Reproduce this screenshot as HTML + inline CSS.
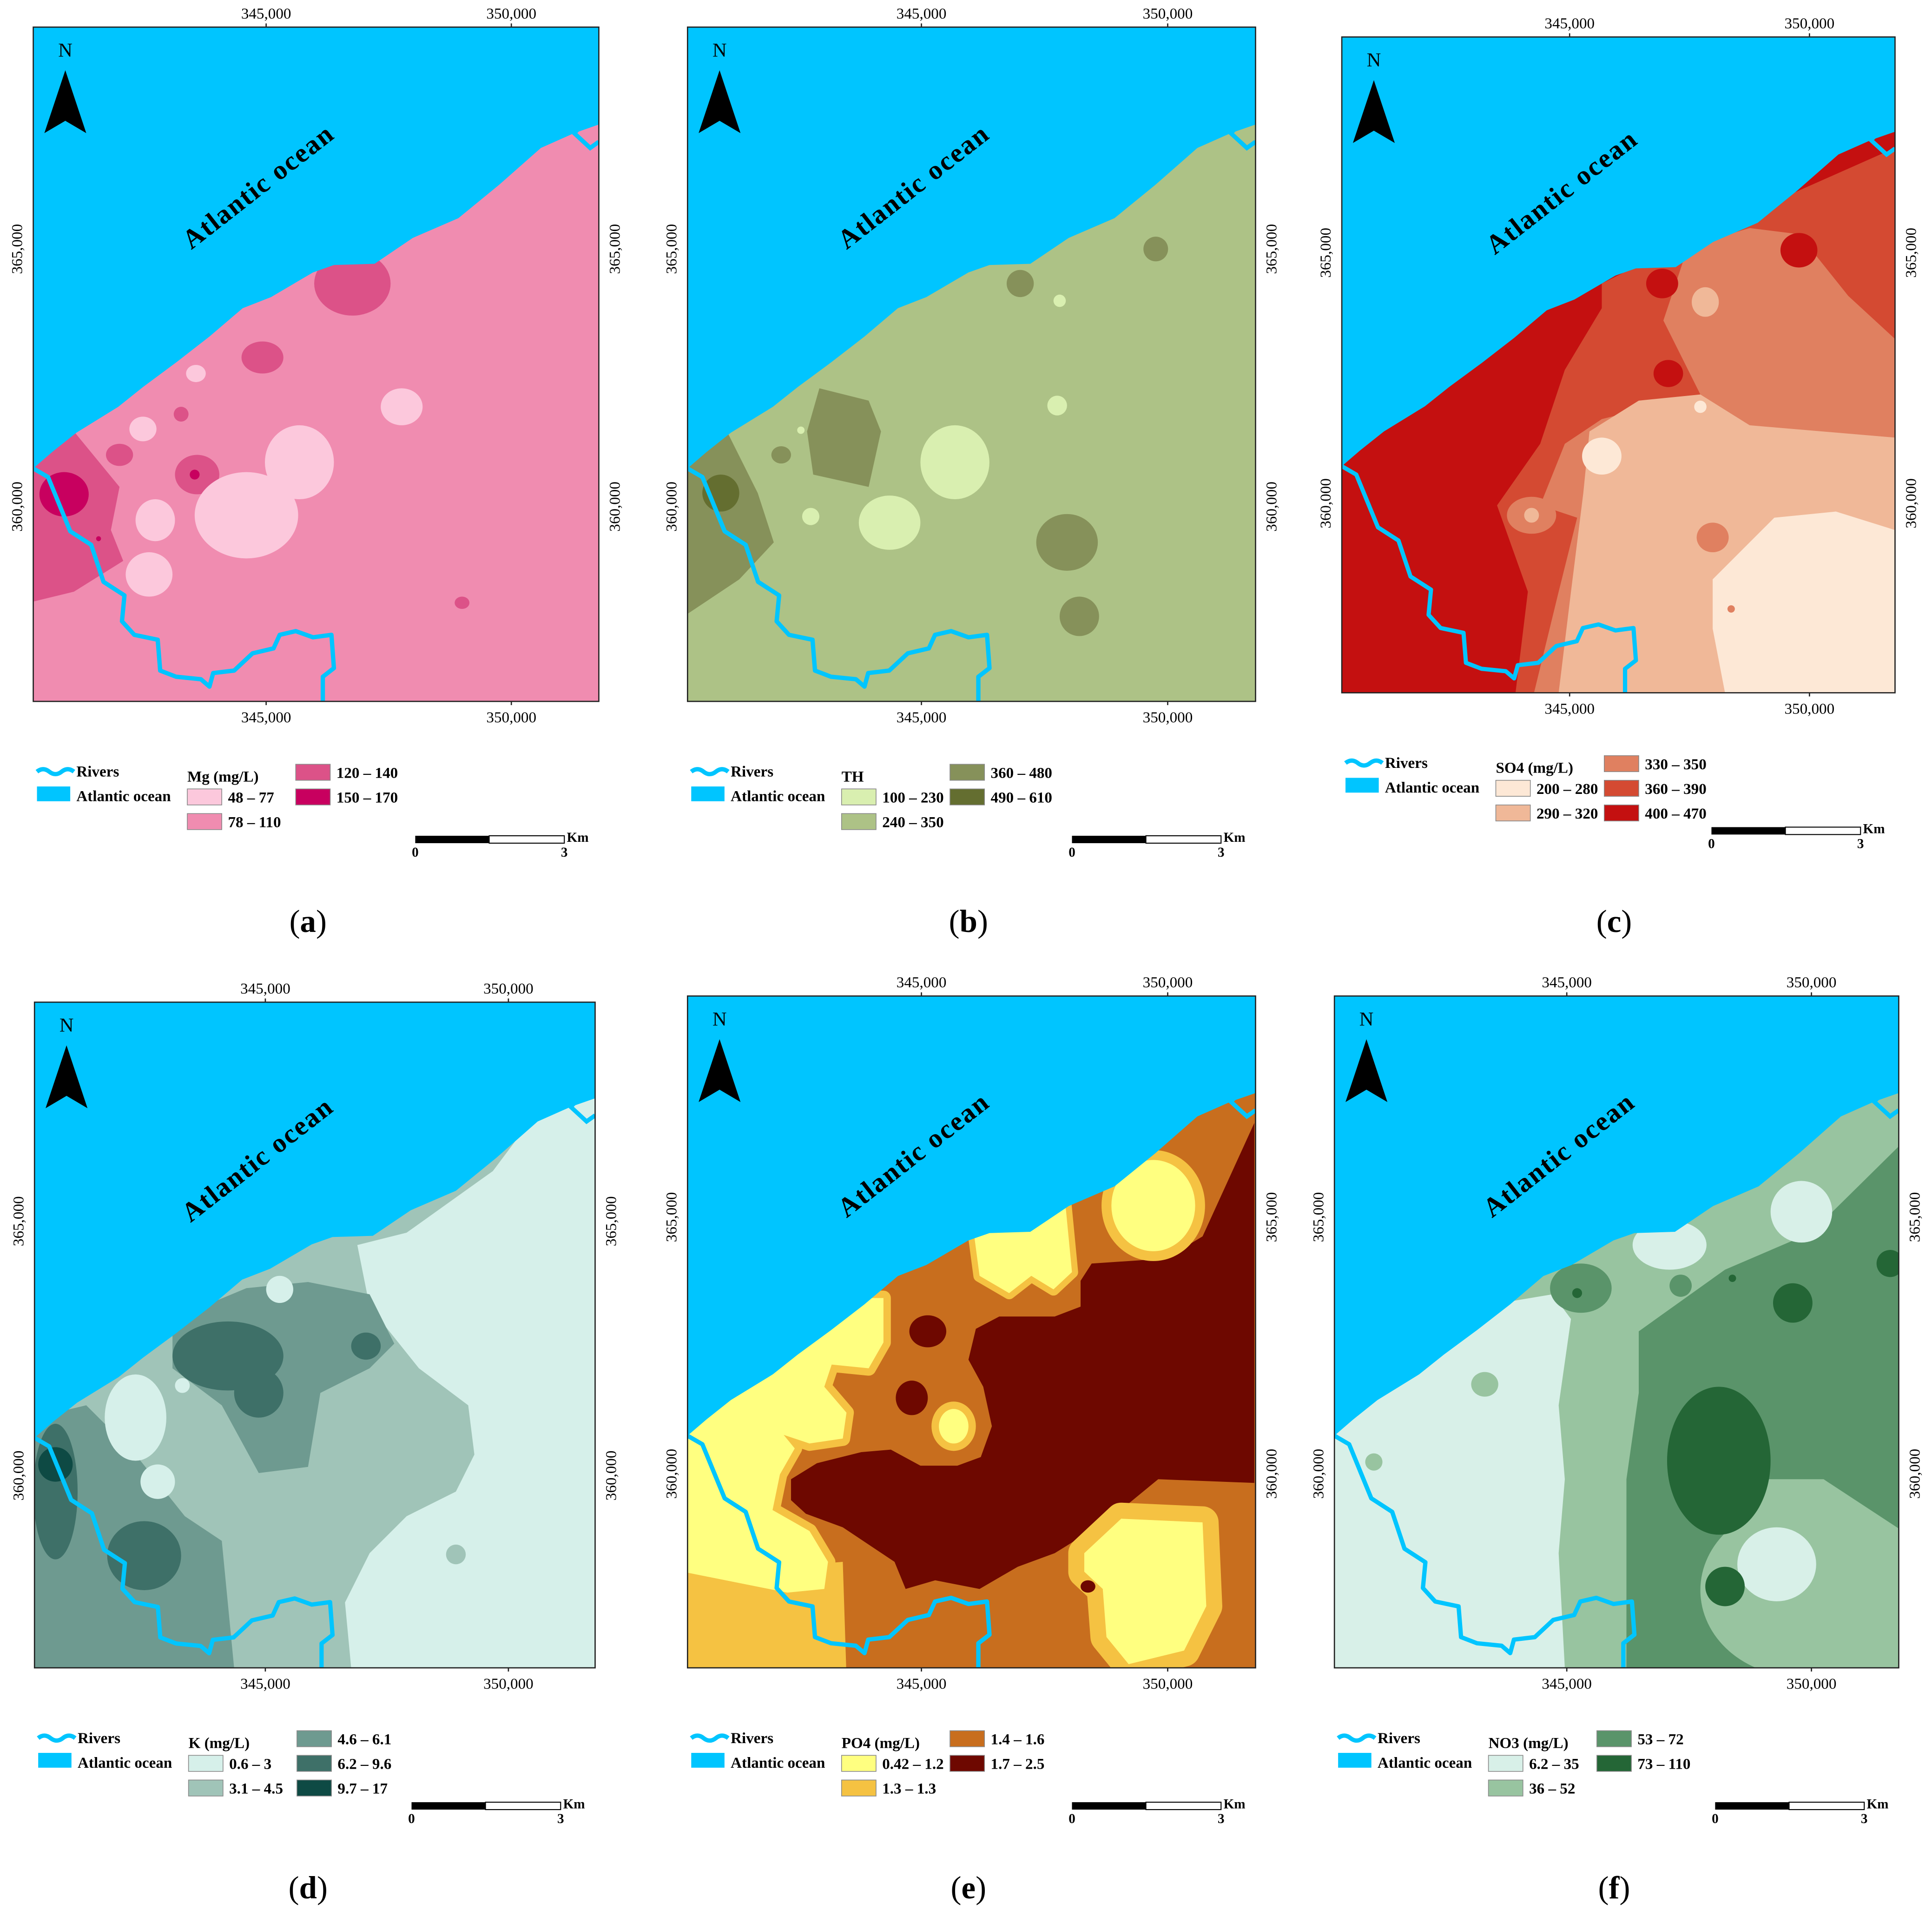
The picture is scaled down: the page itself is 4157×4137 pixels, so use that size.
<!DOCTYPE html>
<html><head><meta charset="utf-8"><style>
html,body{margin:0;padding:0;background:#fff;}
svg{display:block;}
text{font-family:"Liberation Serif",serif;}
</style></head><body>
<svg id="fig" width="4157" height="4137" viewBox="0 0 1568 1560" preserveAspectRatio="none" xmlns="http://www.w3.org/2000/svg">
<rect width="1568" height="1560" fill="#fff"/>
</svg>
<script>
const NS="http://www.w3.org/2000/svg";
const svg=document.getElementById('fig');
function el(tag,attrs,parent,txt){const e=document.createElementNS(NS,tag);for(const k in attrs)e.setAttribute(k,attrs[k]);if(txt!==undefined)e.textContent=txt;(parent||svg).appendChild(e);return e;}
const coast=[[0,358],[15,345],[35,329],[69,308],[89,292],[116,272],[143,251],[170,228],[193,219],[227,199],[244,193],[277,192],[308,171],[345,155],[378,128],[412,98],[439,86],[459,79]];
const river=[[0,358],[12,365],[30,409],[47,420],[57,450],[74,461],[72,482],[82,493],[101,497],[103,522],[116,527],[136,529],[143,535],[146,524],[163,522],[178,508],[195,504],[200,493],[213,490],[227,495],[242,493],[244,520],[235,527],[235,547]];
const river2=[[459,54],[455,70],[439,86],[452,98],[459,93]];
const panels=[
 {id:'a',x:27,y:22,w:459,h:547,base:'#f08cb0',title:'Mg (mg/L)',cls:[['48 – 77','#fcc8dc'],['78 – 110','#f08cb0'],['120 – 140','#dc5288'],['150 – 170','#c8005f']],
  shapes:[['p','#dc5288','27,350 60,350 97,395 90,430 100,455 60,480 27,488'],['e','#dc5288',286,230,31,26],['e','#dc5288',213,290,17,13],['e','#dc5288',147,336,6,6],['e','#dc5288',97,369,11,9],['e','#dc5288',160,385,18,16],['e','#dc5288',375,489,6,5],
  ['e','#c8005f',52,401,20,18],['e','#c8005f',158,385,4,4],['e','#c8005f',80,437,2,2],
  ['e','#fcc8dc',159,303,8,7],['e','#fcc8dc',116,348,11,10],['e','#fcc8dc',126,422,16,17],['e','#fcc8dc',121,466,19,18],['e','#fcc8dc',326,330,17,15],['e','#fcc8dc',200,418,42,35],['e','#fcc8dc',243,375,28,30]]},
 {id:'b',x:558,y:22,w:461,h:547,base:'#adc286',title:'TH',cls:[['100 – 230','#d9efb0'],['240 – 350','#adc286'],['360 – 480','#86915a'],['490 – 610','#646e30']],
  shapes:[['p','#86915a','558,350 590,350 615,400 628,440 600,470 558,498'],['p','#86915a','665,315 705,325 715,350 705,395 660,385 655,350'],['e','#86915a',828,230,11,11],['e','#86915a',938,202,10,10],['e','#86915a',866,440,25,23],['e','#86915a',876,500,16,16],['e','#86915a',634,369,8,7],
  ['e','#646e30',585,400,15,15],
  ['e','#d9efb0',775,375,28,30],['e','#d9efb0',722,424,25,22],['e','#d9efb0',658,419,7,7],['e','#d9efb0',858,329,8,8],['e','#d9efb0',860,244,5,5],['e','#d9efb0',650,349,3,3]]},
 {id:'c',x:1089,y:30,w:449,h:532,base:'#c41010',title:'SO4 (mg/L)',cls:[['200 – 280','#fde8d6'],['290 – 320','#f0b898'],['330 – 350','#e08060'],['360 – 390','#d44a32'],['400 – 470','#c41010']],
  shapes:[['p','#d44a32','1300,230 1380,190 1538,120 1538,562 1230,562 1240,480 1215,410 1250,360 1270,300 1300,250'],
  ['p','#e08060','1370,200 1420,185 1460,190 1500,240 1538,275 1538,562 1245,562 1265,480 1280,420 1250,410 1270,360 1300,340 1380,320 1350,260'],
  ['p','#f0b898','1290,350 1330,325 1380,320 1420,345 1538,355 1538,562 1265,562 1275,480 1285,400'],
  ['p','#fde8d6','1390,470 1440,420 1490,415 1538,430 1538,562 1400,562 1390,510'],
  ['e','#c41010',1460,203,15,14],['e','#c41010',1349,230,13,12],['e','#c41010',1354,303,12,11],['e','#e08060',1390,436,13,12],['e','#e08060',1405,494,3,3],['e','#e08060',1243,418,20,15],
  ['e','#fde8d6',1300,370,16,15],['e','#f0b898',1384,245,11,12],['e','#fde8d6',1380,330,5,5],['e','#f0b898',1243,418,6,6]]},
 {id:'d',x:28,y:813,w:455,h:540,base:'#a0c4b8',title:'K (mg/L)',cls:[['0.6 – 3','#d6f0ea'],['3.1 – 4.5','#a0c4b8'],['4.6 – 6.1','#6e9a90'],['6.2 – 9.6','#3e7068'],['9.7 – 17','#0e4a44']],
  shapes:[['p','#d6f0ea','290,1010 330,1000 400,950 430,910 483,870 483,1353 285,1353 280,1300 300,1260 330,1230 370,1210 385,1180 380,1140 340,1110 300,1060'],
  ['p','#6e9a90','140,1070 200,1045 250,1040 300,1050 320,1090 300,1110 260,1130 250,1190 210,1195 180,1140 140,1110'],
  ['p','#6e9a90','28,1150 70,1140 110,1180 150,1230 180,1250 190,1353 28,1353'],
  ['e','#3e7068',185,1100,45,28],['e','#3e7068',210,1130,20,20],['e','#3e7068',297,1092,12,11],['e','#3e7068',117,1262,30,28],['e','#3e7068',45,1210,18,55],
  ['e','#0e4a44',45,1188,14,14],
  ['e','#d6f0ea',227,1046,11,11],['e','#d6f0ea',110,1150,25,35],['e','#d6f0ea',128,1202,14,14],['e','#d6f0ea',148,1124,6,6],['e','#a0c4b8',370,1261,8,8]]},
 {id:'e',x:558,y:808,w:461,h:545,base:'#c86e1e',title:'PO4 (mg/L)',cls:[['0.42 – 1.2','#ffff80'],['1.3 – 1.3','#f5c242'],['1.4 – 1.6','#c86e1e'],['1.7 – 2.5','#6e0800']],
  shapes:[
  ['p','#f5c242','554,1278 684,1267 687,1360 554,1360'],
  ['p','#6e0800','1018,911 976,1003 946,1021 886,1025 877,1039 877,1060 856,1068 811,1068 792,1078 786,1103 798,1125 805,1157 796,1182 777,1189 747,1189 723,1176 699,1178 663,1187 642,1200 642,1217 654,1228 684,1239 711,1257 726,1267 735,1289 759,1282 795,1289 826,1271 856,1260 901,1232 940,1200 1018,1203'],
  ['s','#ffff80','554,1160 585,1139 615,1118 645,1096 699,1053 717,1053 717,1089 705,1110 675,1107 669,1125 687,1146 684,1167 657,1171 636,1164 627,1153 645,1175 633,1196 627,1225 657,1242 672,1267 669,1289 639,1292 554,1275',12],
  ['s','#ffff80','789,990 864,970 870,1032 855,1046 837,1035 819,1049 795,1035',10],
  ['e','#f5c242',936,978,42,45],['e','#ffff80',936,978,34,37],
  ['e','#f5c242',774,1157,18,20],['e','#ffff80',774,1157,12,14],
  ['e','#6e0800',753,1080,15,13],['e','#6e0800',740,1134,13,14],
  ['s','#ffff80','880,1260 910,1232 976,1235 979,1303 961,1339 916,1350 898,1328 895,1289 880,1275',26],
  ['e','#6e0800',883,1287,6,5]]},
 {id:'f',x:1083,y:808,w:458,h:545,base:'#98c4a0',title:'NO3 (mg/L)',cls:[['6.2 – 35','#d8f0e8'],['36 – 52','#98c4a0'],['53 – 72','#5a946a'],['73 – 110','#246636']],
  shapes:[['p','#d8f0e8','1083,1100 1200,1060 1260,1050 1275,1070 1265,1140 1270,1200 1265,1260 1270,1353 1083,1353'],
  ['p','#5a946a','1330,1080 1400,1030 1470,1000 1541,930 1541,1240 1480,1200 1420,1200 1400,1250 1420,1300 1430,1353 1320,1353 1320,1200 1330,1130'],
  ['e','#98c4a0',1460,1290,80,70],['e','#d8f0e8',1442,1269,32,30],
  ['e','#246636',1395,1185,42,60],['e','#246636',1400,1287,16,16],['e','#246636',1455,1057,16,16],['e','#246636',1534,1025,11,11],['e','#5a946a',1283,1045,25,20],['e','#5a946a',1364,1043,9,9],['e','#246636',1280,1049,4,4],['e','#246636',1406,1037,3,3],
  ['e','#d8f0e8',1462,983,25,25],['e','#d8f0e8',1355,1010,30,20],['e','#98c4a0',1205,1123,11,10],['e','#98c4a0',1115,1186,7,7]]}
];
const titlePos=[[250,756],[786,756],[1310,756],[250,1540],[786,1540],[1310,1540]];
const oceanCol='#00c5ff';
panels.forEach((P,i)=>{
  const g=el('g',{});
  
  
  const cp=el('clipPath',{id:'clip'+P.id},g);
  el('rect',{x:P.x,y:P.y,width:P.w,height:P.h},cp);
  const m=el('g',{'clip-path':'url(#clip'+P.id+')'},g);
  el('rect',{x:P.x,y:P.y,width:P.w,height:P.h,fill:P.base},m);
  P.shapes.forEach(s=>{
    if(s[0]==='p')el('polygon',{points:s[2],fill:s[1]},m);
    else if(s[0]==='s'){el('polygon',{points:s[2],fill:'#f5c242',stroke:'#f5c242','stroke-width':s[3],'stroke-linejoin':'round'},m);el('polygon',{points:s[2],fill:s[1]},m);}
    else el('ellipse',{cx:s[2],cy:s[3],rx:s[4],ry:s[5],fill:s[1]},m);
  });
  const sx=P.w/459,sy=P.h/547;
  const tg=el('g',{transform:`translate(${P.x},${P.y}) scale(${sx},${sy})`},m);
  const oc=[[0,0],[459,0]].concat(coast.slice().reverse());
  const ocean=el('polygon',{points:oc.map(p=>p.join(',')).join(' '),fill:oceanCol},tg);
  
  
  const rv=el('polyline',{points:river.map(p=>p.join(',')).join(' '),fill:'none',stroke:oceanCol,'stroke-width':3.5,'stroke-linejoin':'round'},tg);
  
  
  el('polyline',{points:river2.map(p=>p.join(',')).join(' '),fill:'none',stroke:oceanCol,'stroke-width':3.5},tg);
  el('rect',{x:P.x,y:P.y,width:P.w,height:P.h,fill:'none',stroke:'#222','stroke-width':1},g);
  const lx=P.x+187*sx,ly=P.y+135*sy;
  const ol=el('text',{x:lx,y:ly,'font-size':22,'font-weight':'bold','letter-spacing':1,'text-anchor':'middle',transform:`rotate(-38 ${lx} ${ly})`},g,'Atlantic ocean');
  
  
  const ax=P.x+26,ay=P.y;
  el('text',{x:ax,y:ay+24,'font-size':16,'text-anchor':'middle'},g,'N');
  const na=el('polygon',{points:`${ax},${ay+35} ${ax+17},${ay+86} ${ax},${ay+76} ${ax-17},${ay+86}`,fill:'#000'},g);
  
  
  [[189*sx,'345,000'],[388*sx,'350,000']].forEach(t=>{
    const tx=P.x+t[0];
    el('text',{x:tx,y:P.y-7,'font-size':12.5,'text-anchor':'middle'},g,t[1]);
    el('text',{x:tx,y:P.y+P.h+17,'font-size':12.5,'text-anchor':'middle'},g,t[1]);
    el('line',{x1:tx,y1:P.y-3,x2:tx,y2:P.y,stroke:'#222'},g);
    el('line',{x1:tx,y1:P.y+P.h,x2:tx,y2:P.y+P.h+3,stroke:'#222'},g);
  });
  [[180*sy,'365,000'],[389*sy,'360,000']].forEach(t=>{
    const ty=P.y+t[0];
    const l1x=P.x-9,r1x=P.x+P.w+17;
    el('text',{x:l1x,y:ty,'font-size':12.5,'text-anchor':'middle',transform:`rotate(-90 ${l1x} ${ty})`},g,t[1]);
    el('text',{x:r1x,y:ty,'font-size':12.5,'text-anchor':'middle',transform:`rotate(-90 ${r1x} ${ty})`},g,t[1]);
  });
  const Lx=P.x+3,Ly=P.y+P.h+61;
  const lg=el('g',{'font-weight':'bold'},g);
  
  
  el('path',{d:`M${Lx},${Ly-4} q5,-4 10,0 t10,0 t10,0`,fill:'none',stroke:oceanCol,'stroke-width':3.5},lg);
  el('text',{x:Lx+32,y:Ly,'font-size':12.5},lg,'Rivers');
  el('rect',{x:Lx,y:Ly+8,width:27,height:12,fill:oceanCol},lg);
  el('text',{x:Lx+32,y:Ly+20,'font-size':12.5},lg,'Atlantic ocean');
  const Tx=Lx+122;
  el('text',{x:Tx,y:Ly+4,'font-size':12.5},lg,P.title);
  const slots=P.cls.length===5?[[Tx,Ly+10],[Tx,Ly+30],[Tx+88,Ly-10],[Tx+88,Ly+10],[Tx+88,Ly+30]]:[[Tx,Ly+10],[Tx,Ly+30],[Tx+88,Ly-10],[Tx+88,Ly+10]];
  P.cls.forEach((c,k)=>{
    const s=slots[k];
    const sw=el('rect',{x:s[0],y:s[1],width:28,height:13,fill:c[1],stroke:'#888','stroke-width':0.6},lg);
    
    
    el('text',{x:s[0]+33,y:s[1]+11,'font-size':12.5},lg,c[0]);
  });
  const Sx=P.x+P.w-149,Sy=P.y+P.h+109;
  const sb=el('g',{'font-weight':'bold'},g);
  
  
  el('rect',{x:Sx,y:Sy,width:60,height:6,fill:'#000'},sb);
  el('rect',{x:Sx+60,y:Sy,width:61,height:6,fill:'#fff',stroke:'#000','stroke-width':0.8},sb);
  el('text',{x:Sx+123,y:Sy+5,'font-size':11},sb,'Km');
  el('text',{x:Sx,y:Sy+17,'font-size':11,'text-anchor':'middle'},sb,'0');
  el('text',{x:Sx+121,y:Sy+17,'font-size':11,'text-anchor':'middle'},sb,'3');
  const tp=titlePos[i];
  const tt=el('text',{x:tp[0],y:tp[1],'font-size':26,'text-anchor':'middle'},g);
  
  
  el('tspan',{},tt,'(');
  el('tspan',{'font-weight':'bold'},tt,P.id);
  el('tspan',{},tt,')');
});
</script>
</body></html>
